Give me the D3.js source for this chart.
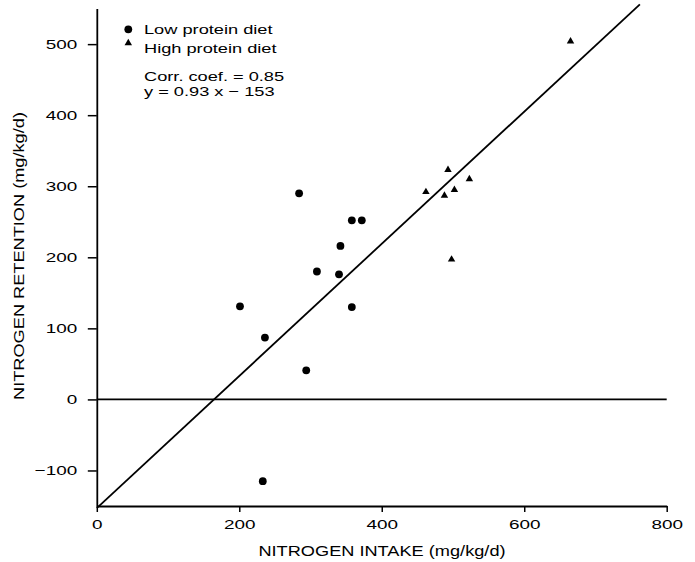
<!DOCTYPE html>
<html>
<head>
<meta charset="utf-8">
<script src="https://cdn.jsdelivr.net/npm/d3@7"></script>
<style>
  body { margin: 0; background: #fff; }
  svg { display: block; }
  text { font-family: "Liberation Sans", Arial, Helvetica, sans-serif; fill: #000; }
</style>
</head>
<body>
<div id="vizcont"></div>
<script>

// low protein diet (circles)
var lowX = [284, 358, 372, 342, 309, 340, 201, 358, 236, 294, 233];
var lowY = [290, 252, 252, 216, 180, 176, 131, 130, 87, 41, -115];

// high protein diet (triangles)
var highX = [462, 493, 523, 488, 502, 498, 665];
var highY = [292, 323, 310, 287, 295, 197, 504];

var xTicks = [0, 200, 400, 600, 800];
var yTicks = [-100, 0, 100, 200, 300, 400, 500];

var legendLabels = ["Low protein diet", "High protein diet"];
var statLabels = ["Corr. coef. = 0.85", "y = 0.93 x \u2212 153"];

// regression
var slope = 0.93, intercept = -153;

var W = 695, H = 562;
var stretch = 1.3;   // the print font is wide, so scale text sideways
var tickStretch = 1.4;

var svg = d3.select("#vizcont")
    .append("svg")
    .attr("width", W)
    .attr("height", H);

var x = d3.scaleLinear()
    .domain([0, 800])
    .range([96.8, 666.7]);

var y = d3.scaleLinear()
    .domain([-150, 550])
    .range([506, 8.6]);

// zero line
svg.append("line")
    .attr("x1", x(0))
    .attr("x2", x(800))
    .attr("y1", y(0))
    .attr("y2", y(0))
    .attr("stroke", "#000")
    .attr("stroke-width", 1.6);

// fitted line, stops near the top of the frame
var yEnd = 556;
svg.append("line")
    .attr("x1", x(0))
    .attr("y1", y(intercept))
    .attr("x2", x((yEnd - intercept) / slope))
    .attr("y2", y(yEnd))
    .attr("stroke", "#000")
    .attr("stroke-width", 1.8);

// x axis
var gx = svg.append("g")
    .attr("transform", "translate(0," + y(-150) + ")")
    .call(d3.axisBottom(x).tickValues(xTicks).tickSize(6).tickSizeOuter(0).tickPadding(7));

// y axis
var gy = svg.append("g")
    .attr("transform", "translate(" + x(0) + ",0)")
    .call(d3.axisLeft(y).tickValues(yTicks).tickSize(9).tickSizeOuter(0).tickPadding(5)
        .tickFormat(function(d) { return d < 0 ? "\u2212" + Math.abs(d) : d; }));

[gx, gy].forEach(function(g) {
    g.select(".domain").attr("stroke-width", 1.8);
    g.selectAll(".tick line").attr("stroke-width", 1.5);
    g.selectAll(".tick text")
        .style("font-size", "13.5px")
        .attr("fill", "#000")
        .attr("transform", "scale(" + tickStretch + ",1)");
});

// axis titles
svg.append("text")
    .attr("transform", "translate(382," + 556 + ") scale(" + stretch + ",1)")
    .attr("text-anchor", "middle")
    .style("font-size", "14px")
    .text("NITROGEN INTAKE (mg/kg/d)");

svg.append("text")
    .attr("transform", "translate(24,256) rotate(-90) scale(" + stretch + ",1)")
    .attr("text-anchor", "middle")
    .style("font-size", "14px")
    .text("NITROGEN RETENTION (mg/kg/d)");

// points
var tri = d3.symbol().type(d3.symbolTriangle).size(24);

svg.append("g")
    .selectAll("circle")
    .data(lowX)
    .enter()
    .append("circle")
    .attr("cx", function(d) { return x(d); })
    .attr("cy", function(d, i) { return y(lowY[i]); })
    .attr("r", 3.9)
    .attr("fill", "#000");

svg.append("g")
    .selectAll("path")
    .data(highX)
    .enter()
    .append("path")
    .attr("d", tri)
    .attr("transform", function(d, i) { return "translate(" + x(d) + "," + y(highY[i]) + ")"; })
    .attr("fill", "#000");

// legend
var legend = svg.append("g");

legend.append("circle")
    .attr("cx", 128.3)
    .attr("cy", 29.3)
    .attr("r", 3.9)
    .attr("fill", "#000");

legend.append("path")
    .attr("d", tri)
    .attr("transform", "translate(128.3,43)")
    .attr("fill", "#000");

var legendY = [33.5, 52.5, 81.2, 95.5];
legendLabels.concat(statLabels).forEach(function(t, i) {
    legend.append("text")
        .attr("transform", "translate(144," + legendY[i] + ") scale(" + (stretch + 0.05) + ",1)")
        .style("font-size", "13.5px")
        .text(t);
});

</script>
</body>
</html>
